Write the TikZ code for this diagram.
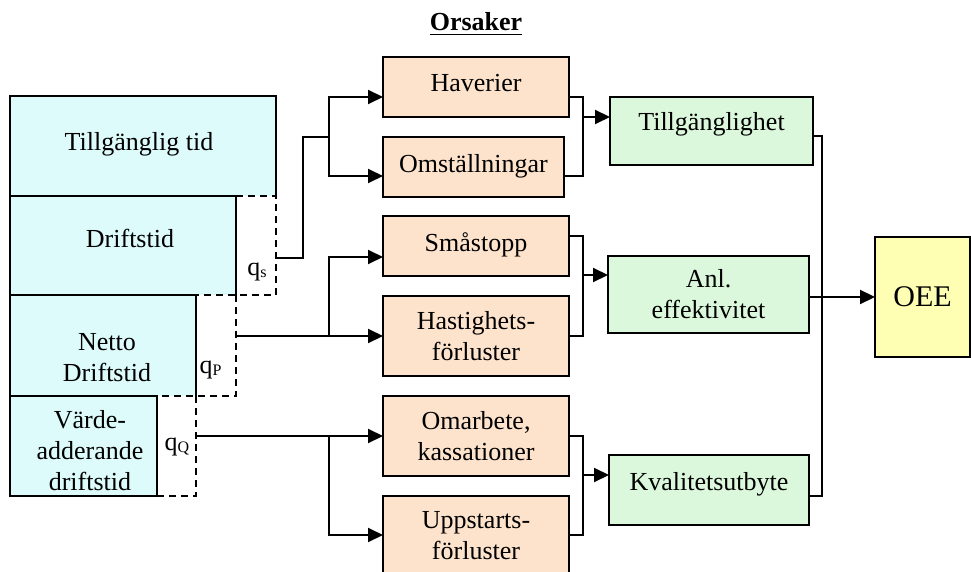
\documentclass[tikz,border=0pt]{standalone}
\usepackage{fontspec}
\setmainfont{Liberation Serif}
\usetikzlibrary{arrows.meta,calc}
\definecolor{cyanfill}{HTML}{DDFBFB}
\definecolor{orangefill}{HTML}{FDE3CC}
\definecolor{greenfill}{HTML}{DCF8DC}
\definecolor{yellowfill}{HTML}{FFFFB4}
\newcommand\mainsz{\fontsize{26}{31}\selectfont}
\newcommand\subsz{\fontsize{16}{16}\selectfont}
\begin{document}
\begin{tikzpicture}[x=1pt,y=-1pt,
  blk/.style={rectangle,inner sep=0pt,outer sep=0pt,fill=cyanfill},
  ghost/.style={rectangle,inner sep=0pt,outer sep=0pt},
  obox/.style={rectangle,draw=black,line width=2pt,inner sep=0pt,outer sep=0pt,fill=orangefill,align=center,font=\mainsz},
  gbox/.style={obox,fill=greenfill},
  ybox/.style={obox,fill=yellowfill,font=\fontsize{30}{34}\selectfont},
  lbl/.style={inner sep=0pt,outer sep=0pt,font=\mainsz},
  solidline/.style={line width=2pt,line cap=rect},
  dashline/.style={line width=2pt,dash pattern=on 7pt off 5pt},
  conn/.style={line width=2pt},
  arrow/.style={line width=2pt,-{Triangle[length=15pt,width=14pt]}}
]
\useasboundingbox (0,0) rectangle (971,572);

% title
\node[lbl,font=\bfseries\mainsz,anchor=base] (ors) at (476,31) {Orsaker};
\draw[line width=1.6pt] ([yshift=-3.5pt]ors.base west) -- ([yshift=-3.5pt]ors.base east);

% left stacked blocks
\node[blk,minimum width=266pt,minimum height=100pt] (tt) at (143,146) {};
\node[blk,minimum width=226pt,minimum height=99pt] (dt) at (123,245.5) {};
\node[blk,minimum width=186pt,minimum height=101pt] (nd) at (103,345.5) {};
\node[blk,minimum width=147pt,minimum height=100pt] (va) at (83.5,446) {};
\node[ghost,minimum width=40pt,minimum height=99pt] (qsb) at (256,245.5) {};
\node[ghost,minimum width=40pt,minimum height=101pt] (qpb) at (216,345.5) {};
\node[ghost,minimum width=39pt,minimum height=100pt] (qqb) at (176.5,446) {};

\draw[solidline] (276,196) -- (276,96) -- (10,96) -- (10,496) -- (157,496) -- (157,396);
\draw[solidline] (10,196) -- (236,196) -- (236,295);
\draw[solidline] (10,295) -- (196,295) -- (196,396);
\draw[solidline] (10,396) -- (157,396);
\draw[dashline] (236,196) -- (276,196) -- (276,295) -- (196,295);
\draw[dashline] (236,295) -- (236,396) -- (157,396);
\draw[dashline] (196,396) -- (196,496) -- (157,496);

\node[lbl,anchor=base] (ttl) at (139,151) {Tillgänglig tid};
\node[lbl,anchor=base] (dtl) at (130,247) {Driftstid};
\node[lbl,align=center] (ndl) at (107,357.4) {Netto\\Driftstid};
\node[lbl,align=center] (val) at (90,451) {Värde-\\adderande\\driftstid};
\node[lbl,anchor=base] (qsl) at (257,275) {q\raisebox{-2pt}{\subsz s}};
\node[lbl,anchor=base] (qpl) at (210.5,373) {q\raisebox{-2pt}{\subsz P}};
\node[lbl,anchor=base] (qql) at (177,450) {q\raisebox{-2pt}{\subsz Q}};

% cause boxes
\node[obox,minimum width=186pt,minimum height=60pt,text height=18pt,text depth=8pt] (hav) at (476,87) {Haverier};
\node[obox,minimum width=181pt,minimum height=60pt,text height=18pt,text depth=8pt] (oms) at (473.5,167) {Omställningar};
\node[obox,minimum width=186pt,minimum height=60pt,text height=18pt,text depth=8pt] (sma) at (476,246) {Småstopp};
\node[obox,minimum width=186pt,minimum height=80pt] (has) at (476,336) {Hastighets-\\förluster};
\node[obox,minimum width=186pt,minimum height=80pt] (oma) at (476,436) {Omarbete,\\kassationer};
\node[obox,minimum width=186pt,minimum height=80pt] (upp) at (476,536) {Uppstarts-\\förluster};

% factor boxes
\node[gbox,minimum width=203pt,minimum height=68pt,text height=18pt,text depth=18pt] (til) at (711.5,131) {Tillgänglighet};
\node[gbox,minimum width=201pt,minimum height=77pt] (anl) at (708.5,294.5) {Anl.\\effektivitet};
\node[gbox,minimum width=200pt,minimum height=70pt,text height=18pt,text depth=17pt] (kva) at (709,490) {Kvalitetsutbyte};
\node[ybox,minimum width=95pt,minimum height=120pt,text height=20pt,text depth=2pt] (oee) at (922.5,297) {OEE};

% connectors from losses to causes
\coordinate (a1) at (303,137);
\coordinate (a2) at (329,137);
\draw[conn] ([yshift=-12.5pt]qsb.east) -| (a1) -- (a2);
\draw[arrow] (a2) |- ([yshift=-10pt]hav.west);
\draw[arrow] (a2) |- ([yshift=-9pt]oms.west);

\coordinate (b1) at (329,336);
\draw[arrow] ([yshift=9.5pt]qpb.east) -- (has.west);
\draw[arrow] (b1) |- ([yshift=-11pt]sma.west);

\coordinate (c1) at (329,436);
\draw[arrow] ([yshift=10pt]qqb.east) -- (oma.west);
\draw[arrow] (c1) |- ([yshift=1pt]upp.west);

% merges into factors
\coordinate (m1) at (583,137);
\draw[conn] ([yshift=-10pt]hav.east) -| (m1) |- ([yshift=-9pt]oms.east);
\draw[arrow] ([yshift=14pt]til.west -| m1) -- ([yshift=14pt]til.west);

\coordinate (m2) at (583,286);
\draw[conn] ([yshift=10pt]sma.east) -| (m2) |- (has.east);
\draw[arrow] ([yshift=19.5pt]anl.west -| m2) -- ([yshift=19.5pt]anl.west);

\coordinate (m3) at (583,486);
\draw[conn] (oma.east) -| (m3) |- ([yshift=1pt]upp.east);
\draw[arrow] ([yshift=15pt]kva.west -| m3) -- ([yshift=15pt]kva.west);

% merge into OEE
\coordinate (m4) at (822,297);
\draw[conn] ([yshift=-5pt]til.east) -| (m4) |- ([yshift=-6pt]kva.east);
\draw[arrow] (anl.east |- oee.west) -- (oee.west);
\end{tikzpicture}
\end{document}
